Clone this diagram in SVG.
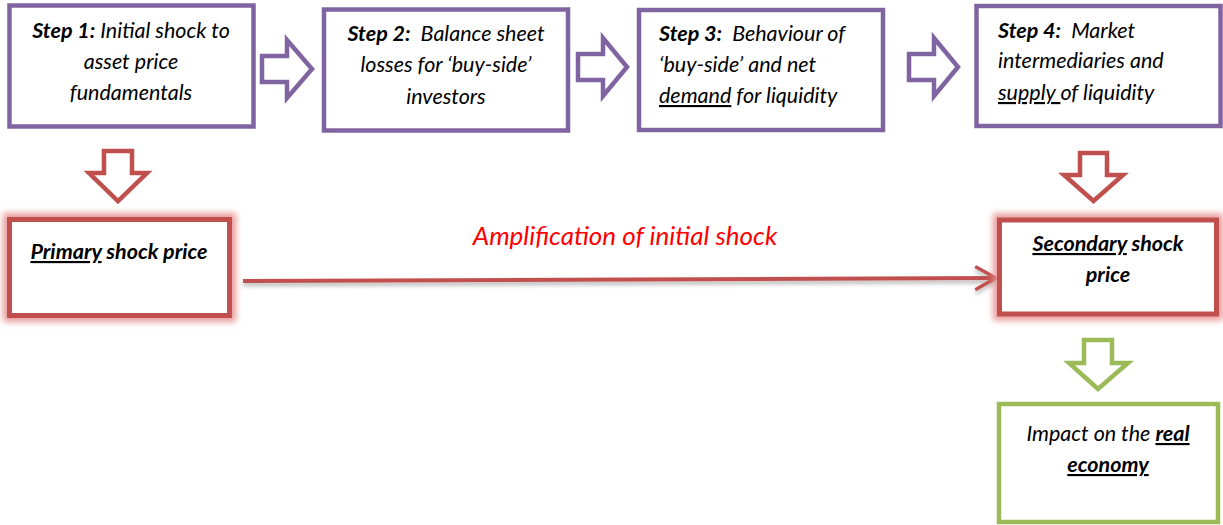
<svg xmlns="http://www.w3.org/2000/svg" width="1223" height="525" viewBox="0 0 1223 525">
<style>
.t{font-family:Lato,"Open Sans","Liberation Sans",sans-serif;font-size:21.5px;font-style:italic;fill:#000;white-space:pre}
.b{font-weight:bold}
.u{text-decoration:underline}
.pbox{fill:#fff;stroke:#8064A2;stroke-width:4.5}
.rbox{fill:#fff;stroke:#C0504D;stroke-width:5}
.gbox{fill:#fff;stroke:#9BBB59;stroke-width:4.5}
.parr{fill:#fff;stroke:#8064A2;stroke-width:4.5}
.rarr{fill:#fff;stroke:#C0504D;stroke-width:4.5}
.garr{fill:#fff;stroke:#9BBB59;stroke-width:4.5}
</style>
<defs>
<filter id="glow" x="-10%" y="-20%" width="120%" height="140%">
<feMorphology in="SourceAlpha" operator="dilate" radius="4" result="d"/>
<feGaussianBlur in="d" stdDeviation="3" result="bl"/>
<feFlood flood-color="#E89090" flood-opacity="0.9"/>
<feComposite in2="bl" operator="in" result="g"/>
<feMerge><feMergeNode in="g"/><feMergeNode in="SourceGraphic"/></feMerge>
</filter>
<filter id="shadow" filterUnits="userSpaceOnUse" x="230" y="250" width="790" height="60">
<feDropShadow dx="0" dy="3" stdDeviation="2" flood-color="#000" flood-opacity="0.3"/>
</filter>
<marker id="open" viewBox="0 0 12 12" refX="11" refY="6" markerWidth="6.5" markerHeight="6.5" orient="auto" markerUnits="strokeWidth">
<path d="M2,1 L11,6 L2,11" fill="none" stroke="#C0504D" stroke-width="1.6" stroke-linecap="round" stroke-linejoin="round"/>
</marker>
</defs>

<g id="connectors">
<path class="parr" d="M262,56 H287 V40 L312,69 L287,98 V82 H262 Z"/>
<path class="parr" d="M578,54 H603 V38 L627,67 L603,96 V80 H578 Z"/>
<path class="parr" d="M909,54 H934 V38 L958,67 L934,96 V80 H909 Z"/>
<path class="rarr" d="M104,151 H132 V173 H147 L118,201 L89,173 H104 Z"/>
<path class="rarr" d="M1080,153 H1107 V175 H1123 L1093.5,201 L1064,175 H1080 Z"/>
<path class="garr" d="M1084,340 H1112 V363 H1128 L1098,389 L1069,363 H1084 Z"/>
<g filter="url(#shadow)">
<line x1="243" y1="281" x2="996" y2="278" stroke="#C0504D" stroke-width="4" marker-end="url(#open)"/>
</g>
</g>

<g id="step1">
<rect class="pbox" x="9.5" y="5.5" width="244" height="121"/>
<text class="t" text-anchor="middle"><tspan x="131" y="38"><tspan class="b">Step 1:</tspan> Initial shock to</tspan><tspan x="131" y="69">asset price</tspan><tspan x="131" y="100">fundamentals</tspan></text>
</g>

<g id="step2">
<rect class="pbox" x="324" y="9.5" width="244" height="121"/>
<text class="t" text-anchor="middle"><tspan x="446" y="41"><tspan class="b">Step 2:</tspan>  Balance sheet</tspan><tspan x="446" y="72">losses for ‘buy-side’</tspan><tspan x="446" y="104">investors</tspan></text>
</g>

<g id="step3">
<rect class="pbox" x="639" y="10" width="244" height="120"/>
<text class="t"><tspan x="659" y="41"><tspan class="b">Step 3:</tspan>  Behaviour of</tspan><tspan x="659" y="72">‘buy-side’ and net</tspan><tspan x="659" y="103"><tspan class="u">demand</tspan> for liquidity</tspan></text>
</g>

<g id="step4">
<rect class="pbox" x="976.5" y="6" width="244" height="120"/>
<text class="t"><tspan x="998" y="38"><tspan class="b">Step 4:</tspan>  Market</tspan><tspan x="998" y="68">intermediaries and</tspan><tspan x="998" y="100"><tspan class="u">supply </tspan>of liquidity</tspan></text>
</g>

<g id="primary">
<rect class="rbox" x="9.5" y="219.5" width="220" height="96" filter="url(#glow)"/>
<text class="t b" x="119" y="259" text-anchor="middle"><tspan class="u">Primary</tspan> shock price</text>
</g>

<g id="amplification">
<text class="t" x="625" y="245" text-anchor="middle" style="font-size:26px;fill:#FF0000">Amplification of initial shock</text>
</g>

<g id="secondary">
<rect class="rbox" x="999.5" y="220" width="217" height="94" filter="url(#glow)"/>
<text class="t b" text-anchor="middle"><tspan x="1108" y="251"><tspan class="u">Secondary</tspan> shock</tspan><tspan x="1108" y="282">price</tspan></text>
</g>

<g id="impact">
<rect class="gbox" x="999" y="404" width="219" height="118"/>
<text class="t" text-anchor="middle"><tspan x="1108" y="441">Impact on the <tspan class="b u">real</tspan></tspan><tspan x="1108" y="472" class="b u">economy</tspan></text>
</g>
</svg>
